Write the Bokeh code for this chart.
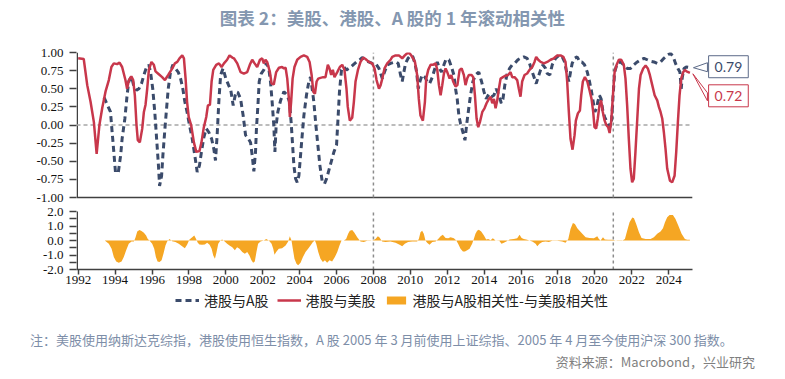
from bokeh.plotting import figure
from bokeh.layouts import column
from bokeh.models import (Range1d, FixedTicker, Legend, LegendItem, Label, Div)
from bokeh.embed import file_html
from bokeh.resources import INLINE

# ---------------- data ----------------
title_text = "图表 2：美股、港股、A 股的 1 年滚动相关性"
note_text = "注：美股使用纳斯达克综指，港股使用恒生指数，A 股 2005 年 3 月前使用上证综指、2005 年 4 月至今使用沪深 300 指数。"
source_text = "资料来源：Macrobond，兴业研究"
series_names = ["港股与A股", "港股与美股", "港股与A股相关性-与美股相关性"]

# 港股与美股 (red)
us_hk_t = [1992.00, 1992.30, 1992.49, 1992.67, 1992.85, 1993.00, 1993.15, 1993.30, 1993.48, 1993.66,
           1993.80, 1993.93, 1994.11, 1994.24, 1994.38, 1994.56, 1994.65, 1994.75, 1994.88, 1994.98,
           1995.07, 1995.16, 1995.23, 1995.34, 1995.47, 1995.56, 1995.65, 1995.74, 1995.83, 1995.97,
           1996.10, 1996.19, 1996.37, 1996.55, 1996.70, 1996.88, 1997.10, 1997.24, 1997.37, 1997.49,
           1997.64, 1997.73, 1997.82, 1997.90, 1997.99, 1998.12, 1998.27, 1998.40, 1998.57, 1998.68,
           1998.81, 1998.94, 1999.03, 1999.14, 1999.23, 1999.32, 1999.48, 1999.63, 1999.77, 1999.90,
           2000.07, 2000.20, 2000.35, 2000.44, 2000.62, 2000.80, 2000.98, 2001.16, 2001.30, 2001.43,
           2001.56, 2001.70, 2001.85, 2001.97, 2002.06, 2002.15, 2002.24, 2002.39, 2002.48, 2002.60,
           2002.73, 2002.88, 2003.05, 2003.15, 2003.24, 2003.33, 2003.42, 2003.47, 2003.54, 2003.62,
           2003.72, 2003.87, 2004.05, 2004.23, 2004.41, 2004.54, 2004.65, 2004.74, 2004.83, 2004.92,
           2005.01, 2005.13, 2005.28, 2005.40, 2005.53, 2005.62, 2005.71, 2005.80, 2005.89, 2006.04,
           2006.18, 2006.31, 2006.43, 2006.54, 2006.61, 2006.72, 2006.85, 2006.94, 2007.03, 2007.16,
           2007.30, 2007.45, 2007.57, 2007.75, 2007.93, 2008.06, 2008.17, 2008.30, 2008.39, 2008.48,
           2008.60, 2008.75, 2008.93, 2009.02, 2009.20, 2009.38, 2009.56, 2009.70, 2009.83, 2009.96,
           2010.10, 2010.25, 2010.37, 2010.46, 2010.55, 2010.68, 2010.79, 2010.86, 2010.97, 2011.10,
           2011.22, 2011.37, 2011.46, 2011.55, 2011.64, 2011.73, 2011.82, 2011.91, 2012.00, 2012.13,
           2012.22, 2012.32, 2012.45, 2012.55, 2012.67, 2012.78, 2012.90, 2012.99, 2013.08, 2013.17,
           2013.32, 2013.41, 2013.50, 2013.59, 2013.68, 2013.77, 2013.90, 2014.02, 2014.13, 2014.26,
           2014.35, 2014.44, 2014.53, 2014.62, 2014.71, 2014.80, 2014.89, 2015.02, 2015.16, 2015.30,
           2015.43, 2015.52, 2015.65, 2015.79, 2015.88, 2015.97, 2016.06, 2016.19, 2016.33, 2016.46,
           2016.61, 2016.73, 2016.82, 2016.93, 2017.06, 2017.24, 2017.42, 2017.60, 2017.78, 2017.96,
           2018.14, 2018.29, 2018.41, 2018.50, 2018.59, 2018.68, 2018.79, 2018.90, 2018.97, 2019.08,
           2019.19, 2019.26, 2019.35, 2019.46, 2019.59, 2019.71, 2019.82, 2019.91, 2019.98, 2020.07,
           2020.16, 2020.25, 2020.34, 2020.43, 2020.53, 2020.62, 2020.72, 2020.80, 2020.89, 2020.98,
           2021.07, 2021.18, 2021.30, 2021.43, 2021.57, 2021.66, 2021.75, 2021.84, 2021.93, 2022.02,
           2022.11, 2022.20, 2022.30, 2022.39, 2022.48, 2022.62, 2022.75, 2022.87, 2022.98, 2023.11,
           2023.24, 2023.38, 2023.47, 2023.56, 2023.65, 2023.74, 2023.83, 2023.92, 2024.07, 2024.19,
           2024.32, 2024.41, 2024.50, 2024.59, 2024.68, 2024.79, 2024.88, 2024.97, 2025.15]
us_hk_v = [0.92, 0.91, 0.55, 0.32, 0.04, -0.40, 0.00, 0.23, 0.46, 0.62,
           0.80, 0.85, 0.84, 0.86, 0.80, 0.62, 0.50, 0.62, 0.67, 0.62,
           0.41, 0.00, -0.21, -0.24, -0.05, 0.18, 0.28, 0.50, 0.76, 0.87,
           0.83, 0.74, 0.70, 0.66, 0.62, 0.69, 0.78, 0.85, 0.87, 0.92,
           0.96, 0.92, 0.64, 0.32, 0.11, 0.00, -0.24, -0.37, -0.36, -0.24,
           -0.03, 0.11, 0.27, 0.28, 0.60, 0.76, 0.83, 0.85, 0.80, 0.85,
           0.90, 0.96, 0.93, 0.92, 0.85, 0.73, 0.71, 0.73, 0.83, 0.90,
           0.85, 0.80, 0.90, 0.92, 0.85, 0.90, 0.87, 0.73, 0.57, 0.56,
           0.73, 0.79, 0.80, 0.78, 0.79, 0.64, 0.36, 0.11, 0.32, 0.64,
           0.80, 0.90, 0.94, 0.96, 0.94, 0.87, 0.69, 0.46, 0.43, 0.60,
           0.64, 0.65, 0.66, 0.66, 0.83, 0.78, 0.69, 0.76, 0.66, 0.73,
           0.80, 0.83, 0.76, 0.50, 0.25, 0.06, 0.10, 0.32, 0.60, 0.76,
           0.87, 0.93, 0.91, 0.87, 0.85, 0.78, 0.62, 0.50, 0.55, 0.64,
           0.78, 0.85, 0.90, 0.94, 0.96, 0.96, 0.92, 0.96, 0.99, 0.99,
           0.94, 0.87, 0.69, 0.36, 0.13, 0.06, 0.32, 0.64, 0.76, 0.83,
           0.83, 0.85, 0.76, 0.55, 0.41, 0.55, 0.71, 0.78, 0.73, 0.64,
           0.69, 0.60, 0.53, 0.55, 0.76, 0.78, 0.69, 0.55, 0.64, 0.69,
           0.69, 0.66, 0.41, 0.09, -0.03, 0.04, 0.18, 0.23, 0.30, 0.36,
           0.39, 0.30, 0.36, 0.23, 0.34, 0.50, 0.64, 0.66, 0.68, 0.69,
           0.73, 0.66, 0.66, 0.62, 0.50, 0.39, 0.60, 0.69, 0.71, 0.76,
           0.80, 0.87, 0.94, 0.90, 0.87, 0.85, 0.87, 0.90, 0.92, 0.96,
           0.96, 0.94, 0.87, 0.60, 0.18, -0.19, -0.34, -0.14, 0.06, 0.16,
           0.20, 0.41, 0.60, 0.66, 0.60, 0.48, 0.36, 0.18, -0.03, -0.05,
           0.09, 0.27, 0.34, 0.18, 0.06, 0.00, -0.03, -0.11, 0.06, 0.41,
           0.73, 0.83, 0.90, 0.90, 0.83, 0.64, 0.27, -0.19, -0.60, -0.79,
           -0.74, -0.37, 0.09, 0.50, 0.69, 0.78, 0.82, 0.78, 0.69, 0.55,
           0.41, 0.34, 0.25, 0.18, 0.09, -0.10, -0.33, -0.60, -0.77, -0.79,
           -0.70, -0.37, 0.04, 0.41, 0.64, 0.73, 0.76, 0.74, 0.72]

# 港股与A股 (blue dashed)
hk_a_t = [1993.40, 1993.75, 1993.84, 1993.93, 1994.02, 1994.17, 1994.30, 1994.38, 1994.53, 1994.65,
          1994.74, 1994.89, 1995.00, 1995.16, 1995.29, 1995.43, 1995.56, 1995.68, 1995.83, 1995.92,
          1996.04, 1996.15, 1996.25, 1996.35, 1996.41, 1996.52, 1996.59, 1996.70, 1996.79, 1996.88,
          1997.00, 1997.13, 1997.27, 1997.42, 1997.55, 1997.67, 1997.78, 1997.90, 1998.03, 1998.18,
          1998.32, 1998.45, 1998.57, 1998.68, 1998.81, 1998.94, 1999.08, 1999.23, 1999.35, 1999.44,
          1999.53, 1999.63, 1999.72, 1999.85, 2000.00, 2000.15, 2000.27, 2000.40, 2000.55, 2000.65,
          2000.80, 2000.94, 2001.07, 2001.20, 2001.34, 2001.43, 2001.52, 2001.61, 2001.66, 2001.74,
          2001.81, 2001.92, 2002.06, 2002.21, 2002.33, 2002.42, 2002.51, 2002.60, 2002.66, 2002.73,
          2002.82, 2002.97, 2003.15, 2003.33, 2003.45, 2003.54, 2003.62, 2003.69, 2003.78, 2003.87,
          2003.96, 2004.05, 2004.14, 2004.23, 2004.37, 2004.50, 2004.59, 2004.68, 2004.77, 2004.88,
          2004.99, 2005.10, 2005.22, 2005.35, 2005.46, 2005.58, 2005.71, 2005.86, 2006.00, 2006.07,
          2006.16, 2006.27, 2006.40, 2006.54, 2006.72, 2006.90, 2007.08, 2007.26, 2007.39, 2007.57,
          2007.75, 2007.93, 2008.11, 2008.30, 2008.48, 2008.60, 2008.75, 2008.93, 2009.20, 2009.34,
          2009.47, 2009.56, 2009.65, 2009.74, 2009.88, 2010.01, 2010.14, 2010.25, 2010.34, 2010.43,
          2010.52, 2010.64, 2010.79, 2010.91, 2011.04, 2011.19, 2011.33, 2011.46, 2011.58, 2011.69,
          2011.82, 2011.94, 2012.09, 2012.23, 2012.36, 2012.45, 2012.54, 2012.63, 2012.72, 2012.85,
          2012.96, 2013.05, 2013.14, 2013.26, 2013.39, 2013.53, 2013.71, 2013.86, 2013.99, 2014.11,
          2014.26, 2014.40, 2014.53, 2014.65, 2014.80, 2014.93, 2015.02, 2015.12, 2015.25, 2015.38,
          2015.52, 2015.66, 2015.83, 2015.97, 2016.15, 2016.33, 2016.46, 2016.61, 2016.73, 2016.82,
          2016.93, 2017.06, 2017.18, 2017.33, 2017.42, 2017.56, 2017.69, 2017.87, 2018.05, 2018.23,
          2018.36, 2018.50, 2018.59, 2018.68, 2018.77, 2018.90, 2019.04, 2019.19, 2019.30, 2019.44,
          2019.59, 2019.71, 2019.82, 2019.91, 2020.00, 2020.09, 2020.16, 2020.25, 2020.34, 2020.43,
          2020.53, 2020.62, 2020.72, 2020.81, 2020.90, 2020.99, 2021.07, 2021.21, 2021.39, 2021.57,
          2021.75, 2021.93, 2022.11, 2022.30, 2022.48, 2022.66, 2022.84, 2023.02, 2023.20, 2023.38,
          2023.56, 2023.74, 2023.92, 2024.10, 2024.25, 2024.37, 2024.50, 2024.61, 2024.68, 2024.74,
          2024.83, 2024.95, 2025.18]
hk_a_v = [0.38, 0.18, -0.10, -0.37, -0.65, -0.66, -0.42, -0.19, 0.09, 0.41,
          0.60, 0.67, 0.55, 0.48, 0.50, 0.57, 0.69, 0.78, 0.83, 0.73,
          0.50, 0.18, -0.19, -0.56, -0.84, -0.70, -0.42, -0.05, 0.23, 0.50,
          0.73, 0.83, 0.78, 0.73, 0.64, 0.50, 0.32, 0.18, 0.00, -0.19,
          -0.42, -0.65, -0.56, -0.37, -0.17, -0.05, -0.10, -0.19, -0.33, -0.49,
          -0.14, 0.36, 0.69, 0.78, 0.64, 0.55, 0.48, 0.27, 0.46, 0.45,
          0.36, 0.13, -0.14, -0.18, -0.24, -0.42, -0.64, -0.37, -0.05, 0.27,
          0.60, 0.71, 0.76, 0.85, 0.78, 0.60, 0.32, 0.00, -0.37, 0.00,
          0.18, 0.34, 0.46, 0.41, 0.32, 0.04, -0.28, -0.56, -0.74, -0.79,
          -0.70, -0.42, -0.14, 0.13, 0.41, 0.60, 0.66, 0.50, 0.32, 0.00,
          -0.28, -0.56, -0.77, -0.81, -0.74, -0.63, -0.51, -0.37, -0.28, 0.04,
          0.46, 0.76, 0.80, 0.76, 0.79, 0.83, 0.87, 0.90, 0.93, 0.90,
          0.87, 0.85, 0.85, 0.78, 0.64, 0.73, 0.83, 0.85, 0.87, 0.85,
          0.69, 0.60, 0.73, 0.85, 0.92, 0.96, 0.94, 0.85, 0.73, 0.50,
          0.60, 0.69, 0.66, 0.60, 0.57, 0.66, 0.78, 0.87, 0.78, 0.73,
          0.83, 0.91, 0.90, 0.80, 0.69, 0.50, 0.36, 0.13, 0.02, -0.10,
          -0.21, 0.00, 0.18, 0.41, 0.60, 0.69, 0.73, 0.60, 0.46, 0.36,
          0.43, 0.39, 0.41, 0.50, 0.41, 0.30, 0.36, 0.55, 0.71, 0.78,
          0.83, 0.85, 0.90, 0.92, 0.94, 0.92, 0.85, 0.73, 0.64, 0.57,
          0.66, 0.76, 0.83, 0.78, 0.71, 0.69, 0.83, 0.92, 0.96, 0.94,
          0.87, 0.69, 0.60, 0.73, 0.85, 0.92, 0.94, 0.87, 0.87, 0.83,
          0.73, 0.60, 0.46, 0.32, 0.18, 0.23, 0.32, 0.41, 0.36, 0.20,
          0.11, 0.06, 0.02, -0.03, 0.04, 0.41, 0.73, 0.85, 0.87, 0.83,
          0.78, 0.78, 0.83, 0.87, 0.90, 0.92, 0.90, 0.88, 0.87, 0.85,
          0.87, 0.92, 0.96, 0.99, 0.94, 0.85, 0.78, 0.73, 0.50, 0.66,
          0.78, 0.80, 0.79]

# 港股与A股相关性-与美股相关性 (orange area)
diff_t = [1993.44, 1993.66, 1993.81, 1993.93, 1994.06, 1994.20, 1994.35, 1994.47, 1994.60, 1994.74,
          1994.89, 1995.02, 1995.11, 1995.20, 1995.32, 1995.43, 1995.56, 1995.68, 1995.77, 1995.86,
          1996.01, 1996.12, 1996.21, 1996.30, 1996.41, 1996.52, 1996.62, 1996.73, 1996.82, 1996.95,
          1997.09, 1997.27, 1997.45, 1997.63, 1997.78, 1997.90, 1998.03, 1998.18, 1998.29, 1998.39,
          1998.48, 1998.57, 1998.71, 1998.86, 1998.99, 1999.12, 1999.23, 1999.32, 1999.41, 1999.50,
          1999.59, 1999.71, 1999.80, 1999.94, 2000.07, 2000.20, 2000.35, 2000.49, 2000.61, 2000.74,
          2000.89, 2001.03, 2001.16, 2001.28, 2001.39, 2001.48, 2001.57, 2001.66, 2001.75, 2001.88,
          2002.06, 2002.19, 2002.33, 2002.48, 2002.57, 2002.64, 2002.73, 2002.87, 2003.05, 2003.24,
          2003.38, 2003.47, 2003.56, 2003.63, 2003.72, 2003.83, 2003.92, 2004.05, 2004.18, 2004.32,
          2004.46, 2004.59, 2004.72, 2004.83, 2004.90, 2005.01, 2005.13, 2005.26, 2005.37, 2005.49,
          2005.62, 2005.76, 2005.91, 2006.04, 2006.16, 2006.27, 2006.40, 2006.52, 2006.63, 2006.72,
          2006.85, 2006.97, 2007.12, 2007.30, 2007.48, 2007.66, 2007.84, 2007.98, 2008.11, 2008.24,
          2008.33, 2008.47, 2008.65, 2008.92, 2009.20, 2009.42, 2009.56, 2009.70, 2009.88, 2010.10,
          2010.37, 2010.46, 2010.55, 2010.64, 2010.73, 2010.82, 2010.91, 2011.04, 2011.19, 2011.37,
          2011.51, 2011.64, 2011.76, 2011.91, 2012.05, 2012.18, 2012.36, 2012.49, 2012.59, 2012.72,
          2012.85, 2012.96, 2013.08, 2013.21, 2013.35, 2013.44, 2013.53, 2013.62, 2013.71, 2013.84,
          2013.99, 2014.11, 2014.22, 2014.35, 2014.47, 2014.62, 2014.80, 2014.94, 2015.07, 2015.20,
          2015.38, 2015.61, 2015.79, 2015.92, 2016.03, 2016.15, 2016.33, 2016.61, 2016.79, 2016.88,
          2017.00, 2017.15, 2017.33, 2017.51, 2017.69, 2017.96, 2018.23, 2018.41, 2018.56, 2018.68,
          2018.81, 2018.92, 2019.05, 2019.17, 2019.32, 2019.50, 2019.71, 2019.95, 2020.13, 2020.22,
          2020.31, 2020.44, 2020.54, 2020.72, 2020.94, 2021.21, 2021.48, 2021.63, 2021.75, 2021.88,
          2022.03, 2022.12, 2022.24, 2022.39, 2022.53, 2022.75, 2023.02, 2023.20, 2023.38, 2023.56,
          2023.69, 2023.80, 2023.92, 2024.05, 2024.23, 2024.37, 2024.52, 2024.70, 2024.88, 2025.01,
          2025.15]
diff_v = [0.00, -0.23, -0.57, -1.14, -1.44, -1.53, -1.44, -1.14, -0.68, -0.23,
          -0.07, -0.07, 0.23, 0.62, 0.73, 0.66, 0.53, 0.34, 0.11, 0.00,
          -0.23, -0.57, -1.14, -1.44, -1.48, -1.37, -0.91, -0.34, -0.07, 0.11,
          -0.05, -0.11, -0.23, -0.39, -0.53, -0.30, 0.07, 0.23, 0.34, 0.11,
          -0.16, -0.27, -0.30, -0.27, -0.16, -0.30, -0.57, -1.03, -1.26, -0.80,
          -0.23, 0.00, 0.07, -0.07, -0.23, -0.34, -0.46, -0.68, -0.46, -0.57,
          -0.80, -0.91, -0.80, -1.03, -1.37, -1.53, -1.44, -0.80, -0.23, -0.07,
          0.00, 0.11, 0.00, -0.23, -0.57, -0.98, -0.80, -0.57, -0.53, -0.34,
          -0.07, 0.30, 0.00, -0.57, -1.26, -1.60, -1.71, -1.53, -1.14, -0.80,
          -0.57, -0.34, -0.11, 0.00, -0.23, -0.80, -1.26, -1.48, -1.37, -1.53,
          -1.37, -1.44, -1.14, -0.80, -0.34, 0.00, 0.00, 0.11, 0.46, 0.68,
          0.73, 0.53, 0.23, -0.07, -0.11, -0.02, -0.02, 0.02, 0.11, 0.30,
          0.20, -0.07, -0.11, -0.07, -0.16, -0.30, -0.39, -0.23, -0.11, -0.07,
          -0.07, 0.11, 0.57, 0.68, 0.46, 0.00, -0.16, -0.30, -0.11, -0.07,
          0.11, 0.30, 0.39, 0.18, 0.16, 0.23, 0.16, 0.00, -0.23, -0.57,
          -0.75, -0.75, -0.68, -0.57, -0.23, 0.11, 0.46, 0.68, 0.75, 0.62,
          0.34, 0.07, 0.11, 0.02, 0.16, 0.00, 0.02, -0.23, -0.16, -0.07,
          0.07, 0.11, 0.16, 0.39, 0.18, 0.11, 0.05, -0.07, -0.23, -0.39,
          -0.23, -0.11, -0.07, -0.11, -0.02, -0.02, -0.07, -0.16, 0.11, 0.80,
          1.21, 1.14, 0.84, 0.68, 0.46, 0.23, 0.18, 0.16, 0.30, 0.11,
          0.00, 0.23, 0.07, 0.05, 0.05, -0.02, -0.02, 0.11, 0.68, 1.26,
          1.58, 1.53, 1.14, 0.57, 0.18, 0.11, 0.11, 0.23, 0.46, 0.62,
          0.84, 1.26, 1.60, 1.76, 1.76, 1.48, 1.03, 0.46, 0.11, 0.05,
          0.05]

x_ticks = list(range(1992, 2025, 2))
top_y_ticks = [-1.0, -0.75, -0.5, -0.25, 0.0, 0.25, 0.5, 0.75, 1.0]
bot_y_ticks = [-2.0, -1.0, 0.0, 1.0, 2.0]
bot_y_minor = [-1.5, -0.5, 0.5, 1.5]
ref_years = [2008, 2021]
top_lim = (-1.0, 1.0)
bot_lim = (-2.0, 2.0)

# ---------------- style / geometry (page pixels) ----------------
W = 785
TITLE_H, LEG_H = 35, 20
NOTE_H, SRC_H = 40, 28
FRAME_LEFT, FRAME_W = 76, 680
FRAME_TOP_BORDER, MAIN_BOTTOM_BORDER = 17, 22
X_START, X_END = 1991.908, 2028.76
AXIS_END = 2025.28
TOP_PX, GAP_PX, BOT_PX = 145.0, 14.0, 58.0
FRAME_PX = TOP_PX + GAP_PX + BOT_PX
MAIN_H = int(FRAME_TOP_BORDER + FRAME_PX + MAIN_BOTTOM_BORDER)
RED = "#c8374b"
BLUE = "#3b4b6b"
ORANGE = "#f5a623"
AXIS_C = "#404040"
TICK_FONT = "Liberation Serif"
CJK = "Noto Sans CJK SC"

top_upp = (top_lim[1] - top_lim[0]) / TOP_PX
bot_upp = (bot_lim[1] - bot_lim[0]) / BOT_PX
PPX = (X_END - X_START) / FRAME_W
y_main = Range1d(top_lim[1] - FRAME_PX * top_upp, top_lim[1])
y_bot = Range1d(bot_lim[0], bot_lim[0] + FRAME_PX * bot_upp)


def bot_to_main(u):
    px_from_bottom = (u - bot_lim[0]) / bot_upp
    return y_main.start + px_from_bottom * top_upp


# ---------------- title ----------------
title_div = Div(text=(f'<div style="font-family:\'{CJK}\';font-size:17.5px;font-weight:bold;'
                      f'color:#8497b0;text-align:center;width:{W}px;line-height:35px;'
                      f'white-space:nowrap">{title_text}</div>'),
                width=W, height=TITLE_H, margin=0)

# ---------------- main chart ----------------
p = figure(width=W, height=MAIN_H, x_range=Range1d(X_START, X_END), y_range=y_main,
           title=None, output_backend="svg", toolbar_location=None,
           min_border_left=FRAME_LEFT, min_border_right=W - FRAME_LEFT - FRAME_W,
           min_border_top=FRAME_TOP_BORDER, min_border_bottom=MAIN_BOTTOM_BORDER)
p.extra_y_ranges = {"bot": y_bot}
p.xgrid.visible = False
p.ygrid.visible = False
p.outline_line_color = None

ya = p.yaxis[0]
major_pos = list(top_y_ticks) + [bot_to_main(u) for u in bot_y_ticks]
minor_pos = [bot_to_main(u) for u in bot_y_minor]
ya.ticker = FixedTicker(ticks=major_pos, minor_ticks=minor_pos)
overrides = {v: f"{v:.2f}" for v in top_y_ticks}
overrides.update({bot_to_main(u): f"{u:.1f}" for u in bot_y_ticks})
ya.major_label_overrides = overrides
ya.axis_line_color = None          # drawn per panel below
ya.major_tick_line_color = AXIS_C
ya.major_tick_line_width = 1.5
ya.minor_tick_line_color = AXIS_C
ya.minor_tick_line_width = 1.5
ya.major_tick_out = 7
ya.major_tick_in = 0
ya.minor_tick_out = 7
ya.minor_tick_in = 0
ya.major_label_standoff = 6
ya.major_label_text_font = TICK_FONT
ya.major_label_text_font_size = "13px"
ya.major_label_text_color = "#111111"

xa = p.xaxis[0]
xa.ticker = FixedTicker(ticks=x_ticks, minor_ticks=[])
xa.bounds = (X_START, AXIS_END)
xa.axis_line_color = AXIS_C
xa.axis_line_width = 1.5
xa.major_tick_line_color = AXIS_C
xa.major_tick_line_width = 1.5
xa.major_tick_out = 5
xa.major_tick_in = 0
xa.minor_tick_out = 0
xa.major_label_standoff = 1
xa.major_label_text_font = TICK_FONT
xa.major_label_text_font_size = "13px"
xa.major_label_text_color = "#111111"

# per-panel y-axis lines (gap between panels), top panel base line, reference lines
axis_x = X_START + 0.75 * PPX
p.segment(x0=[axis_x, axis_x], y0=[top_lim[0], bot_to_main(bot_lim[0])],
          x1=[axis_x, axis_x], y1=[top_lim[1], bot_to_main(bot_lim[1])],
          line_color=AXIS_C, line_width=1.5)
p.segment(x0=[X_START], y0=[top_lim[0]], x1=[AXIS_END], y1=[top_lim[0]],
          line_color=AXIS_C, line_width=1.5)
p.segment(x0=[X_START], y0=[0], x1=[AXIS_END], y1=[0], line_color="#a6a6a6",
          line_dash="4 3", line_width=1.5)
p.segment(x0=ref_years, y0=[top_lim[0]] * len(ref_years), x1=ref_years,
          y1=[top_lim[1]] * len(ref_years), line_color="#8c8c8c", line_dash="3 3", line_width=1.5)
p.segment(x0=ref_years, y0=[bot_lim[0]] * len(ref_years), x1=ref_years,
          y1=[bot_lim[1]] * len(ref_years), line_color="#8c8c8c", line_dash="3 3",
          line_width=1.5, y_range_name="bot")

p.varea(x=diff_t, y1=0, y2=diff_v, fill_color=ORANGE, y_range_name="bot")
p.line(hk_a_t, hk_a_v, line_color=BLUE, line_width=3, line_dash="6 4")
p.line(us_hk_t, us_hk_v, line_color=RED, line_width=2.5)

# callouts for last values
bt, bv = hk_a_t[-1], hk_a_v[-1]
rt, rv = us_hk_t[-1], us_hk_v[-1]
box_dx = 38
base_dx = box_dx - 21
p.patch(x=[bt + 3 * PPX, bt + base_dx * PPX, bt + base_dx * PPX],
        y=[bv, bv + 5 * top_upp, bv - 4 * top_upp],
        fill_color="white", line_color="#5c6a88", line_width=1)
p.patch(x=[rt + 3 * PPX, bt + base_dx * PPX, bt + base_dx * PPX],
        y=[rv - 1 * top_upp, rv - 20 * top_upp, rv - 28 * top_upp],
        fill_color="white", line_color=RED, line_width=1)
p.add_layout(Label(x=bt, y=bv, x_offset=box_dx, y_offset=1, text=f"{bv:.2f}",
                   text_align="center", text_baseline="middle", text_color=BLUE,
                   text_font="Lato", text_font_size="14px",
                   border_line_color="#5c6a88", border_line_width=1,
                   background_fill_color="white", padding=6))
p.add_layout(Label(x=bt, y=rv, x_offset=box_dx, y_offset=-23, text=f"{rv:.2f}",
                   text_align="center", text_baseline="middle", text_color=RED,
                   text_font="Lato", text_font_size="14px",
                   border_line_color=RED, border_line_width=1,
                   background_fill_color="white", padding=6))

# ---------------- legend strip ----------------
# the series are drawn again here only so the legend has glyphs; the strip's
# x range (0..1) keeps them out of view.
lg = figure(width=W, height=LEG_H, x_range=Range1d(0, 1), y_range=Range1d(0, 1),
            x_axis_type=None, y_axis_type=None, title=None, output_backend="svg",
            toolbar_location=None, min_border_left=FRAME_LEFT,
            min_border_right=W - FRAME_LEFT - FRAME_W, min_border_top=0, min_border_bottom=0)
lg.xgrid.visible = False
lg.ygrid.visible = False
lg.outline_line_color = None
lb = lg.line(hk_a_t, hk_a_v, line_color=BLUE, line_width=3, line_dash="6 4")
lr = lg.line(us_hk_t, us_hk_v, line_color=RED, line_width=2.5)
la = lg.varea(x=diff_t, y1=0, y2=diff_v, fill_color=ORANGE)
legend = Legend(items=[LegendItem(label=series_names[0], renderers=[lb]),
                       LegendItem(label=series_names[1], renderers=[lr]),
                       LegendItem(label=series_names[2], renderers=[la])],
                orientation="horizontal", location=(175 - FRAME_LEFT, 1),
                glyph_width=24, glyph_height=10, label_standoff=5, spacing=8,
                padding=0, margin=0, border_line_color=None, background_fill_alpha=0,
                label_text_font=CJK, label_text_font_size="14px",
                label_text_color="#222222")
lg.add_layout(legend, "center")

# ---------------- notes ----------------
note_div = Div(text=(f'<div style="font-family:\'{CJK}\';font-size:13px;color:#7d8ea8;'
                     f'white-space:nowrap;padding-left:30px;padding-top:20px;line-height:18px">'
                     f'{note_text}</div>'),
               width=W, height=NOTE_H, margin=0)
src_div = Div(text=(f'<div style="font-family:\'{CJK}\';font-size:13px;color:#7f7f7f;'
                    f'white-space:nowrap;text-align:right;width:755px;padding-top:2px;'
                    f'line-height:18px">{source_text}</div>'),
              width=W, height=SRC_H, margin=0)

layout = column(title_div, p, lg, note_div, src_div, spacing=0)
open("out.html", "w").write(file_html(layout, INLINE))
